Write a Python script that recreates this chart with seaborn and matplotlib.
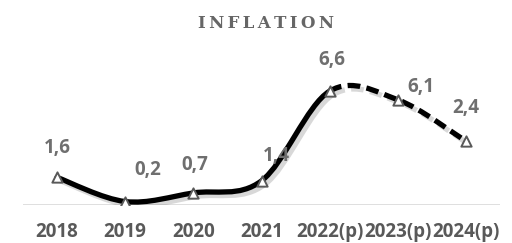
import matplotlib
matplotlib.use("Agg")
import matplotlib.pyplot as plt
import seaborn as sns
import numpy as np
import pandas as pd
from matplotlib.path import Path
from matplotlib.patches import PathPatch
import matplotlib.patheffects as pe

years = ["2018", "2019", "2020", "2021", "2022(p)", "2023(p)", "2024(p)"]
# marker heights
plot_values = [1.6, 0.2, 0.7, 1.4, 6.6, 6.1, 3.7]
# numbers printed in the data labels
label_values = [1.6, 0.2, 0.7, 1.4, 6.6, 6.1, 2.4]
label_dx = [0, 23, 1, 15, 2, 23, 0]
label_dy = [29, 32, 28, 25, 31, 13, 33]

sns.set_theme(style="white")
plt.rcParams["font.family"] = ["Open Sans", "DejaVu Sans"]

fig = plt.figure(figsize=(5.12, 2.43), dpi=100)
ax = fig.add_axes([23/512, 38/243, 477/512, 138/243])

df = pd.DataFrame({"year": years, "value": plot_values})

# smoothed line (Excel-style smoothing), drawn in data coordinates
xs = np.arange(len(years), dtype=float)
ys = np.array(plot_values, dtype=float)
P = np.column_stack([xs, ys])

def seg_path(i0, i1):
    verts = [P[i0]]
    codes = [Path.MOVETO]
    n = len(P)
    for i in range(i0, i1):
        pm = P[max(i - 1, 0)]
        p0 = P[i]
        p1 = P[i + 1]
        p2 = P[min(i + 2, n - 1)]
        c1 = p0 + (p1 - pm) / 6.0
        c2 = p1 - (p2 - p0) / 6.0
        verts += [c1, c2, p1]
        codes += [Path.CURVE4] * 3
    return Path(verts, codes)

shadow = [pe.SimpleLineShadow(offset=(2.5, -2.5), shadow_color="#7f7f7f", alpha=0.3), pe.Normal()]
solid = PathPatch(seg_path(0, 4), fill=False, edgecolor="black", lw=3.8,
                  capstyle="round", joinstyle="round", zorder=3, path_effects=shadow)
dashed = PathPatch(seg_path(4, 6), fill=False, edgecolor="black", lw=3.8,
                   linestyle=(0, (2.4, 1.2)), capstyle="butt", zorder=3, path_effects=shadow)
ax.add_patch(solid)
ax.add_patch(dashed)

sns.scatterplot(data=df, x="year", y="value", marker="^", s=55, color="white",
                edgecolor="#595959", linewidth=1.4, zorder=5, ax=ax, legend=False)

for i, v in enumerate(label_values):
    ax.annotate(f"{v:.1f}".replace(".", ","), (i, plot_values[i]),
                xytext=(label_dx[i] / 100 * 72, label_dy[i] / 100 * 72),
                textcoords="offset points", ha="center", va="center",
                fontsize=13.5, fontweight="bold", color="#6f6f6f", zorder=6)

ax.axhline(0, color="#d9d9d9", lw=1.2, zorder=1)
ax.set_xlim(-0.5, 6.5)
ax.set_ylim(0, 8)
ax.set_yticks([])
ax.set_xlabel("")
ax.set_ylabel("")
ax.tick_params(axis="x", length=0, pad=12)
for lab in ax.get_xticklabels():
    lab.set_fontweight("bold")
    lab.set_fontsize(13.5)
    lab.set_color("#595959")
for s in ax.spines.values():
    s.set_visible(False)

fig.text(265.5/512, 1 - 23/243, "\u2009".join("INFLATION"), ha="center", va="center",
         fontsize=12, fontweight="bold", color="#666666", family=["DejaVu Serif"])

fig.savefig("out.png", dpi=100)
